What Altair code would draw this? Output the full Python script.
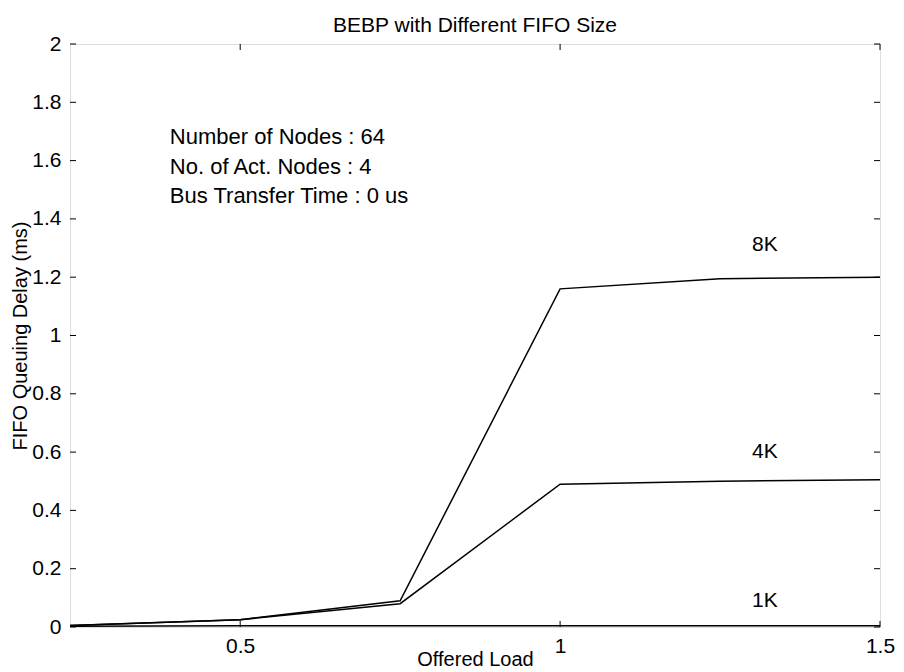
import altair as alt
import pandas as pd

# Data
load = [0.234, 0.5, 0.75, 1.0, 1.25, 1.5]
delay_8k = [0.005, 0.025, 0.09, 1.16, 1.195, 1.2]
delay_4k = [0.005, 0.025, 0.08, 0.49, 0.50, 0.505]
delay_1k = [0.003, 0.004, 0.004, 0.004, 0.004, 0.004]

series_names = ["8K", "4K", "1K"]
label_x = [1.32, 1.32, 1.32]
label_y = [1.31, 0.60, 0.09]

info_lines = ["Number of Nodes : 64", "No. of Act. Nodes : 4", "Bus Transfer Time : 0 us"]
info_x = [0.39, 0.39, 0.39]
info_y = [1.68, 1.578, 1.478]

x_ticks = [0.5, 1.0, 1.5]
y_ticks = [round(0.2 * i, 1) for i in range(11)]

X_DOMAIN = [0.234, 1.5]
Y_DOMAIN = [0, 2]
W, H = 810, 583
FONT = "Liberation Sans"
FS_TICK = 21
FS_INFO = 22
FS_LAB = 21

rows = []
for name, vals in zip(series_names, [delay_8k, delay_4k, delay_1k]):
    for x, y in zip(load, vals):
        rows.append({"series": name, "load": x, "delay": y})
df = pd.DataFrame(rows)

xs = alt.Scale(domain=X_DOMAIN, nice=False, zero=False)
ys = alt.Scale(domain=Y_DOMAIN, nice=False, zero=False)

lines = alt.Chart(df).mark_line(color="black", strokeWidth=1.5, clip=True).encode(
    x=alt.X("load:Q", scale=xs,
            axis=alt.Axis(title="Offered Load", values=x_ticks, format="~g", domain=False,
                          ticks=False, grid=False, labelFontSize=FS_TICK, labelFont=FONT,
                          labelColor="black", labelPadding=8, titleFont=FONT,
                          titleFontSize=FS_TICK - 1, titleFontWeight="normal", titleColor="black",
                          titlePadding=-7, labelFlush=False)),
    y=alt.Y("delay:Q", scale=ys,
            axis=alt.Axis(title="FIFO Queuing Delay (ms)", values=y_ticks, format="~g",
                          domain=False, ticks=False, grid=False, labelFontSize=FS_TICK,
                          labelFont=FONT, labelColor="black", labelPadding=9,
                          titleFont=FONT, titleFontSize=FS_TICK - 1, titleFontWeight="normal",
                          titleColor="black", titlePadding=1)),
    detail="series:N",
)

lab_df = pd.DataFrame({"t": series_names, "x": label_x, "y": label_y})
labels = alt.Chart(lab_df).mark_text(font=FONT, fontSize=FS_LAB, color="black", align="center",
                                     baseline="middle").encode(
    x=alt.X("x:Q", scale=xs), y=alt.Y("y:Q", scale=ys), text="t:N")

info_df = pd.DataFrame({"t": info_lines, "x": info_x, "y": info_y})
info = alt.Chart(info_df).mark_text(font=FONT, fontSize=FS_INFO, color="black", align="left",
                                    baseline="middle").encode(
    x=alt.X("x:Q", scale=xs), y=alt.Y("y:Q", scale=ys), text="t:N")

xt_df = pd.DataFrame({"v": x_ticks})
yt_df = pd.DataFrame({"v": y_ticks})
TL = 6
xt_bottom = alt.Chart(xt_df).mark_rule(color="black", strokeWidth=1).encode(
    x=alt.X("v:Q", scale=xs), y=alt.value(H), y2=alt.value(H - TL))
xt_top = alt.Chart(xt_df).mark_rule(color="black", strokeWidth=1).encode(
    x=alt.X("v:Q", scale=xs), y=alt.value(0), y2=alt.value(TL))
yt_left = alt.Chart(yt_df).mark_rule(color="black", strokeWidth=1).encode(
    y=alt.Y("v:Q", scale=ys), x=alt.value(0), x2=alt.value(TL))
yt_right = alt.Chart(yt_df).mark_rule(color="black", strokeWidth=1).encode(
    y=alt.Y("v:Q", scale=ys), x=alt.value(W), x2=alt.value(W - TL))

chart = alt.layer(lines, labels, info, xt_bottom, xt_top, yt_left, yt_right).properties(
    width=W, height=H,
    title=alt.TitleParams("BEBP with Different FIFO Size", font=FONT, fontSize=FS_TICK,
                          fontWeight="normal", color="black", anchor="middle", offset=-3,
                          frame="group"),
    autosize=alt.AutoSizeParams(type="none"),
    padding={"left": 62, "top": 36, "right": 16, "bottom": 44},
).configure_view(stroke="black", strokeWidth=1.5).configure(background="white")

chart.save("out.html", embed_options={"renderer": "svg", "actions": False})
